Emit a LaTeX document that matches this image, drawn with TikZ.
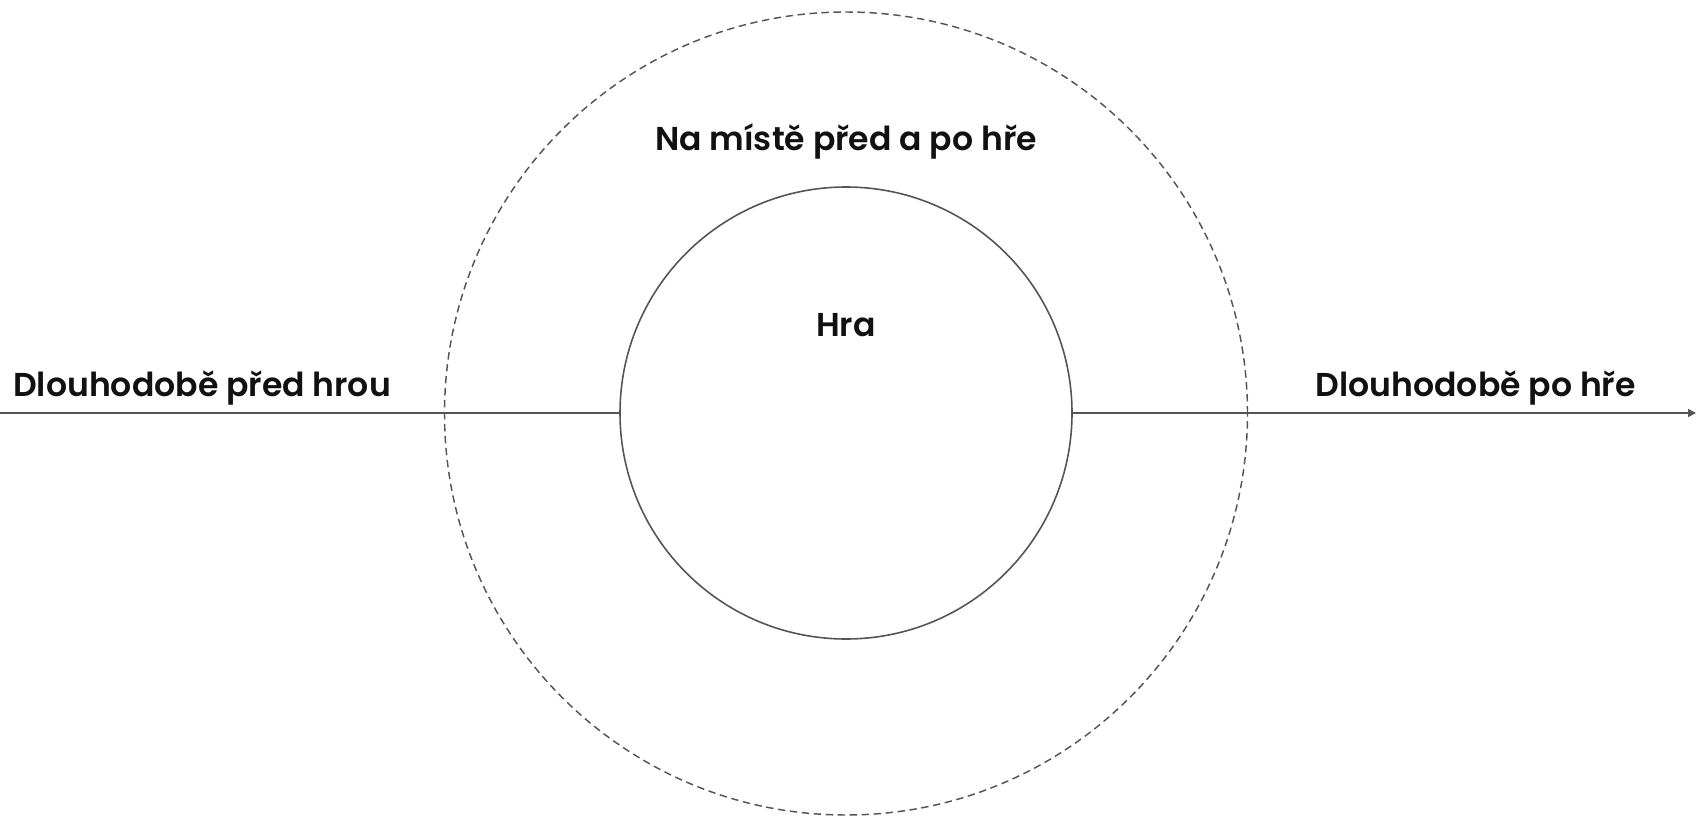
\documentclass[tikz,border=0pt]{standalone}
\usepackage{fontspec}
\setmainfont{Poppins}[BoldFont={Poppins SemiBold}]
\usetikzlibrary{arrows.meta}
\definecolor{linegray}{HTML}{555555}
\definecolor{textblack}{HTML}{111111}
\begin{document}
\begin{tikzpicture}[x=0.75pt,y=-0.75pt,
  lbl/.style={font=\fontsize{24.8}{28}\selectfont\bfseries, text=textblack, inner sep=0pt, anchor=base},
  ring/.style={draw=linegray, line width=1.2pt, circle, inner sep=0pt},
  dashring/.style={draw=linegray, line width=1.1pt, circle, inner sep=0pt, dash pattern=on 5.5pt off 3.5pt},
  axis/.style={draw=linegray, line width=1.3pt},
  arrowaxis/.style={axis, -{Triangle[length=6pt,width=6pt]}}]
\useasboundingbox (0,0) rectangle (1696,817);
\node[dashring, minimum size=803*0.75pt] (outer) at (846,413.5) {};
\node[ring, minimum size=452*0.75pt] (inner) at (846,413) {};
\coordinate (start) at (0,413);
\coordinate (finish) at (1696,413);
\draw[axis] (start) -- (inner.west);
\draw[arrowaxis] (inner.east) -- (finish);
\node[lbl, anchor=base west] (before) at (13,396) {Dlouhodobě před hrou};
\node[lbl, anchor=base east] (after) at (1636,396) {Dlouhodobě po hře};
\node[lbl] (onsite) at (846,151) {Na místě před a po hře};
\node[lbl] (game) at (846,336) {Hra};
\end{tikzpicture}
\end{document}
